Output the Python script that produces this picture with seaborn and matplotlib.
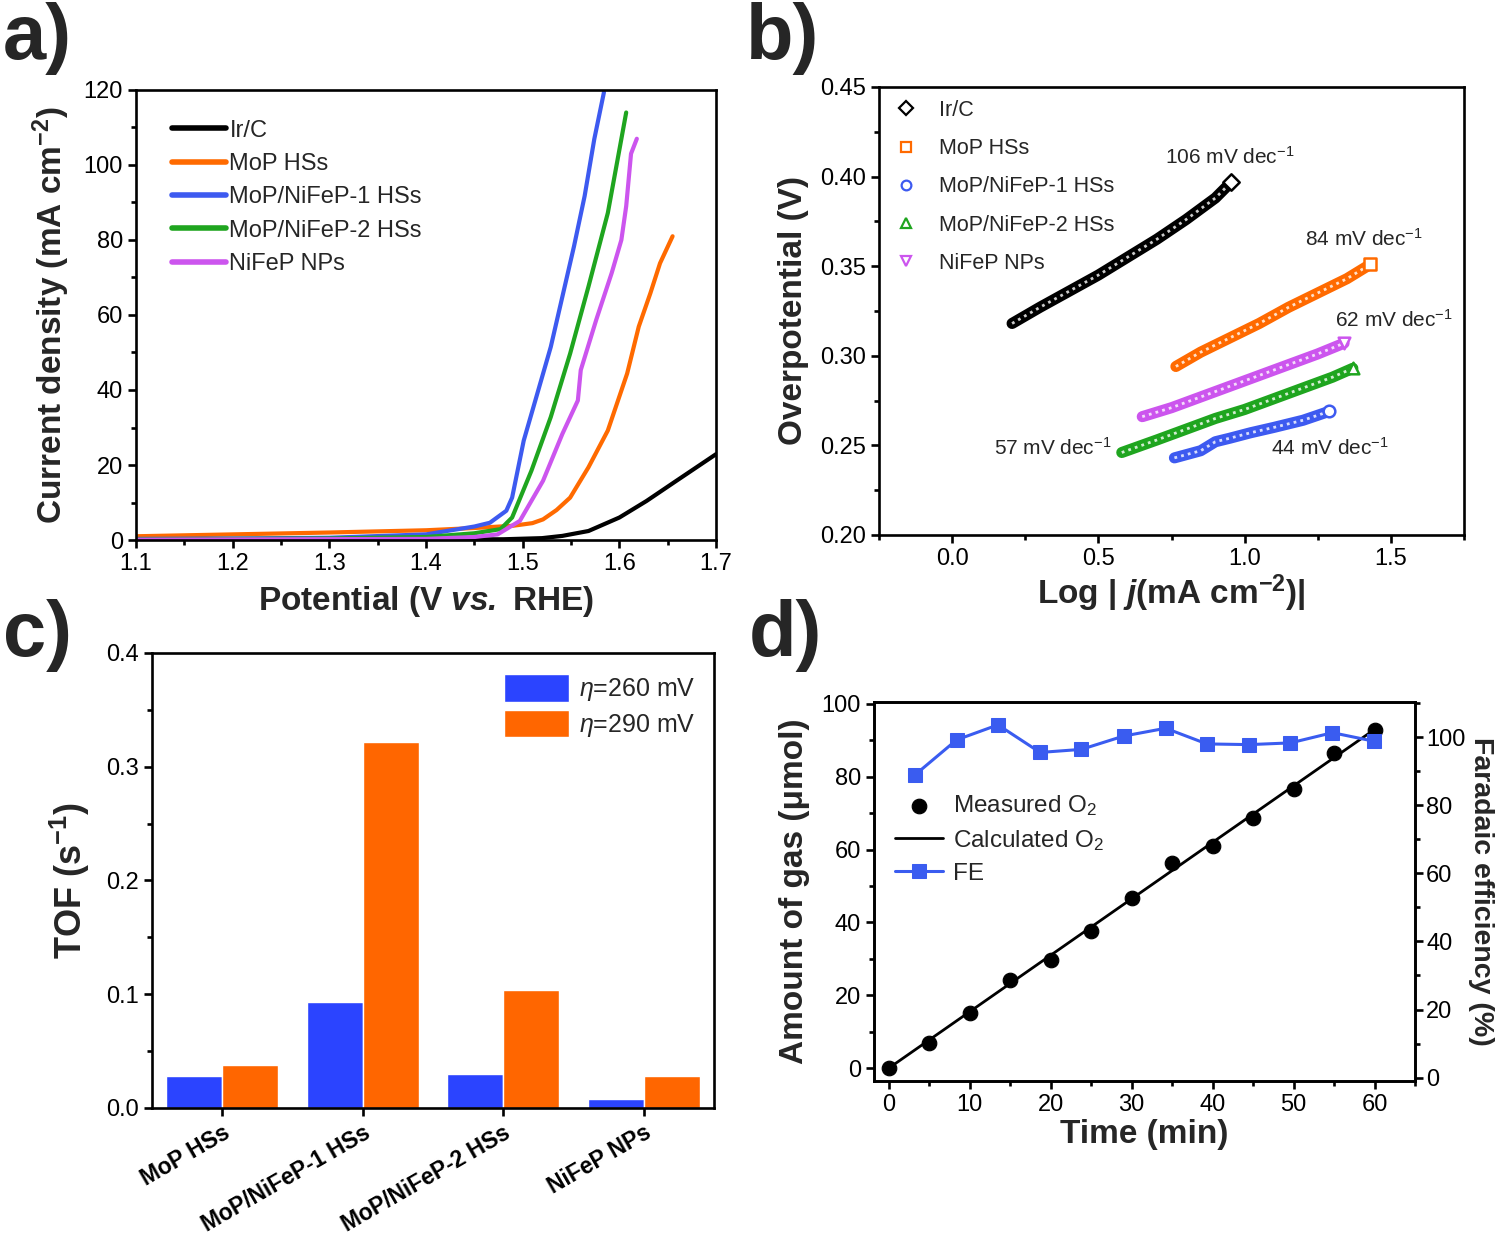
import numpy as np
import pandas as pd
import matplotlib
matplotlib.use("Agg")
import matplotlib.pyplot as plt
import seaborn as sns
from matplotlib.lines import Line2D
from matplotlib.ticker import MultipleLocator
from matplotlib.transforms import ScaledTranslation

# ---- panel a: LSV curves (potential V vs RHE, current density mA cm-2)
irc_x = [1.10, 1.20, 1.30, 1.40, 1.48, 1.52, 1.541, 1.568, 1.600, 1.628, 1.659, 1.70]
irc_y = [0.1, 0.1, 0.1, 0.1, 0.2, 0.5, 1.1, 2.4, 6.0, 10.4, 15.8, 22.9]
mop_x = [1.10, 1.20, 1.30, 1.40, 1.45, 1.49, 1.51, 1.521, 1.535, 1.549, 1.568, 1.588, 1.608, 1.620, 1.632, 1.642, 1.655]
mop_y = [1.0, 1.5, 2.0, 2.6, 3.2, 3.8, 4.5, 5.5, 8.0, 11.3, 19.4, 29.2, 44.4, 56.9, 65.8, 73.8, 81.0]
hs1_x = [1.10, 1.20, 1.30, 1.40, 1.45, 1.466, 1.483, 1.489, 1.501, 1.513, 1.529, 1.541, 1.553, 1.564, 1.574, 1.584]
hs1_y = [0.3, 0.4, 0.6, 1.5, 3.6, 4.6, 7.8, 11.3, 26.5, 37.2, 51.5, 64.9, 78.3, 91.7, 106.9, 119.4]
hs2_x = [1.10, 1.30, 1.40, 1.45, 1.477, 1.489, 1.509, 1.529, 1.549, 1.568, 1.588, 1.607]
hs2_y = [0.2, 0.4, 0.8, 1.8, 2.9, 6.0, 18.5, 32.8, 49.7, 67.6, 87.2, 114.0]
nifep_x = [1.10, 1.40, 1.45, 1.474, 1.497, 1.521, 1.541, 1.557, 1.560, 1.576, 1.592, 1.602, 1.607, 1.612, 1.618]
nifep_y = [0.1, 0.3, 0.8, 1.5, 5.1, 15.8, 28.3, 37.2, 45.3, 58.7, 71.2, 80.0, 89.0, 103.0, 107.0]

names = ["Ir/C", "MoP HSs", "MoP/NiFeP-1 HSs", "MoP/NiFeP-2 HSs", "NiFeP NPs"]
colors = ["#000000", "#FF6A00", "#3D5AF0", "#1FA51F", "#CC55EE"]

# ---- panel b: Tafel plots (log j, overpotential V)
tafel_irc_x = [0.205, 0.30, 0.40, 0.50, 0.60, 0.70, 0.80, 0.90, 0.955]
tafel_irc_y = [0.318, 0.327, 0.336, 0.345, 0.355, 0.365, 0.376, 0.388, 0.397]
tafel_mop_x = [0.765, 0.85, 0.95, 1.05, 1.15, 1.25, 1.35, 1.43]
tafel_mop_y = [0.294, 0.302, 0.310, 0.318, 0.327, 0.335, 0.343, 0.351]
tafel_hs1_x = [0.76, 0.85, 0.90, 0.95, 1.02, 1.10, 1.20, 1.29]
tafel_hs1_y = [0.243, 0.247, 0.252, 0.254, 0.257, 0.260, 0.264, 0.269]
tafel_hs2_x = [0.58, 0.70, 0.80, 0.90, 1.00, 1.10, 1.20, 1.30, 1.37]
tafel_hs2_y = [0.246, 0.253, 0.259, 0.265, 0.270, 0.276, 0.282, 0.288, 0.293]
tafel_nifep_x = [0.65, 0.75, 0.85, 0.95, 1.05, 1.15, 1.25, 1.34]
tafel_nifep_y = [0.266, 0.271, 0.277, 0.283, 0.289, 0.295, 0.301, 0.307]
tafel_markers = ["D", "s", "o", "^", "v"]
slope_text = ["106 mV dec$^{-1}$", "84 mV dec$^{-1}$", "44 mV dec$^{-1}$", "57 mV dec$^{-1}$", "62 mV dec$^{-1}$"]
slope_x = [0.948, 1.407, 1.293, 0.345, 1.510]
slope_y = [0.411, 0.365, 0.2486, 0.2486, 0.320]

# ---- panel c: TOF
tof_samples = ["MoP HSs", "MoP/NiFeP-1 HSs", "MoP/NiFeP-2 HSs", "NiFeP NPs"]
tof_260 = [0.028, 0.093, 0.030, 0.008]
tof_290 = [0.038, 0.322, 0.104, 0.028]

# ---- panel d: gas evolution
time_meas = [0, 5, 10, 15, 20, 25, 30, 35, 40, 45, 50, 55, 60]
o2_meas = [0, 6.8, 15.3, 24.2, 29.7, 37.6, 46.8, 56.2, 60.9, 68.7, 76.6, 86.6, 92.7]
time_calc = [0, 60]
o2_calc = [0, 93]
time_fe = [3.3, 8.4, 13.5, 18.7, 23.8, 29.0, 34.2, 39.3, 44.5, 49.6, 54.8, 59.9]
fe = [89.0, 99.2, 103.6, 95.5, 96.4, 100.3, 102.6, 98.0, 97.8, 98.3, 101.3, 98.8]

sns.set_theme(style="ticks")
plt.rcParams["font.family"] = ["Liberation Sans", "DejaVu Sans"]
plt.rcParams["mathtext.fontset"] = "custom"
plt.rcParams["mathtext.rm"] = "Liberation Sans"
plt.rcParams["mathtext.it"] = "Liberation Sans:italic"
plt.rcParams["mathtext.bf"] = "Liberation Sans:bold"
plt.rcParams["mathtext.bfit"] = "Liberation Sans:bold:italic"
plt.rcParams["axes.linewidth"] = 1.9
plt.rcParams["xtick.major.width"] = 1.9
plt.rcParams["ytick.major.width"] = 1.9
plt.rcParams["xtick.minor.width"] = 1.9
plt.rcParams["ytick.minor.width"] = 1.9
plt.rcParams["xtick.major.size"] = 6
plt.rcParams["ytick.major.size"] = 6
plt.rcParams["xtick.minor.size"] = 3.5
plt.rcParams["ytick.minor.size"] = 3.5
plt.rcParams["xtick.color"] = "black"
plt.rcParams["ytick.color"] = "black"
plt.rcParams["axes.edgecolor"] = "black"

fig = plt.figure(figsize=(15, 12.36), dpi=100)
ax_a = fig.add_axes([0.0907, 0.5631, 0.3867, 0.3641])
ax_b = fig.add_axes([0.586, 0.5672, 0.390, 0.3625])
ax_c = fig.add_axes([0.1013, 0.1036, 0.3747, 0.3681])
ax_d = fig.add_axes([0.5827, 0.1254, 0.3607, 0.3066])

label_font = dict(fontsize=24, fontweight="bold")

# a) LSV
lsv = pd.concat([
    pd.DataFrame({"E": irc_x, "j": irc_y, "sample": names[0]}),
    pd.DataFrame({"E": mop_x, "j": mop_y, "sample": names[1]}),
    pd.DataFrame({"E": hs1_x, "j": hs1_y, "sample": names[2]}),
    pd.DataFrame({"E": hs2_x, "j": hs2_y, "sample": names[3]}),
    pd.DataFrame({"E": nifep_x, "j": nifep_y, "sample": names[4]}),
])
sns.lineplot(data=lsv, x="E", y="j", hue="sample", palette=colors, hue_order=names,
             sort=False, estimator=None, linewidth=3, ax=ax_a)
ax_a.set_xlim(1.1, 1.7)
ax_a.set_ylim(0, 120)
ax_a.xaxis.set_major_locator(MultipleLocator(0.1))
ax_a.xaxis.set_minor_locator(MultipleLocator(0.05))
ax_a.yaxis.set_major_locator(MultipleLocator(20))
ax_a.yaxis.set_minor_locator(MultipleLocator(10))
ax_a.tick_params(labelsize=17)
ax_a.set_xlabel(r"Potential (V $\mathbfit{vs.}$ RHE)", labelpad=6, **label_font)
ax_a.set_ylabel(r"Current density (mA cm$^{\mathbf{-2}}$)", labelpad=8, **label_font)
leg = ax_a.legend(loc="upper left", bbox_to_anchor=(0.045, 0.955), frameon=False, fontsize=17,
                  handlelength=2.3, labelspacing=0.48, handletextpad=0.15, borderaxespad=0)
for h in leg.get_lines():
    h.set_linewidth(4)

# b) Tafel
tafel = [(tafel_irc_x, tafel_irc_y), (tafel_mop_x, tafel_mop_y), (tafel_hs1_x, tafel_hs1_y),
         (tafel_hs2_x, tafel_hs2_y), (tafel_nifep_x, tafel_nifep_y)]
handles = []
for (tx, ty), c, m, n in zip(tafel, colors, tafel_markers, names):
    df = pd.DataFrame({"logj": tx, "eta": ty})
    sns.lineplot(data=df, x="logj", y="eta", color=c, linewidth=8, sort=False, estimator=None, ax=ax_b)
    sns.lineplot(data=df, x="logj", y="eta", color="white", linewidth=2, sort=False,
                 estimator=None, ax=ax_b, dashes=False, alpha=0.8, linestyle=(0, (1, 1.5)))
    sns.scatterplot(x=tx[-1:], y=ty[-1:], marker=m, s=70, facecolor="white", edgecolor=c,
                    linewidth=1.8, ax=ax_b, zorder=5)
    handles.append(Line2D([], [], linestyle="none", marker=m, markersize=7, markerfacecolor="none",
                          markeredgecolor=c, markeredgewidth=1.6, label=n))
for t, x, y in zip(slope_text, slope_x, slope_y):
    ax_b.text(x, y, t, fontsize=15, ha="center", va="center")
ax_b.set_xlim(-0.25, 1.75)
ax_b.set_ylim(0.20, 0.45)
ax_b.xaxis.set_major_locator(MultipleLocator(0.5))
ax_b.xaxis.set_minor_locator(MultipleLocator(0.25))
ax_b.yaxis.set_major_locator(MultipleLocator(0.05))
ax_b.yaxis.set_minor_locator(MultipleLocator(0.025))
ax_b.xaxis.set_major_formatter(plt.FormatStrFormatter("%.1f"))
ax_b.yaxis.set_major_formatter(plt.FormatStrFormatter("%.2f"))
ax_b.tick_params(labelsize=17)
ax_b.set_xlabel(r"Log | $\mathbfit{j}$(mA cm$^{\mathbf{-2}}$)|", labelpad=2, **label_font)
ax_b.set_ylabel("Overpotential (V)", labelpad=8, **label_font)
ax_b.legend(handles=handles, loc="upper left", bbox_to_anchor=(-0.005, 0.99), frameon=False,
            fontsize=15.5, labelspacing=0.8, handletextpad=0.5, borderaxespad=0)

# c) TOF
tof = pd.DataFrame({
    "sample": tof_samples * 2,
    "tof": tof_260 + tof_290,
    "eta": [r"$\mathit{\eta}$=260 mV"] * 4 + [r"$\mathit{\eta}$=290 mV"] * 4,
})
sns.barplot(data=tof, x="sample", y="tof", hue="eta", palette=["#2B44FF", "#FF6600"],
            saturation=1, width=0.8, ax=ax_c)
ax_c.set_xlim(-0.5, 3.5)
ax_c.set_ylim(0, 0.4)
ax_c.yaxis.set_major_locator(MultipleLocator(0.1))
ax_c.yaxis.set_minor_locator(MultipleLocator(0.05))
ax_c.tick_params(axis="y", labelsize=17)
ax_c.tick_params(axis="x", labelsize=16.5)
ax_c.set_xlabel("")
ax_c.set_ylabel(r"TOF (s$^{\mathbf{-1}}$)", labelpad=10, fontsize=26, fontweight="bold")
for lab in ax_c.get_xticklabels():
    lab.set_rotation(30)
    lab.set_ha("right")
    lab.set_rotation_mode("anchor")
    lab.set_fontweight("bold")
    lab.set_transform(lab.get_transform() + ScaledTranslation(0.6, 0.13, fig.dpi_scale_trans))
ax_c.legend(loc="upper right", bbox_to_anchor=(0.985, 0.975), frameon=False, fontsize=18,
            handlelength=2.6, handleheight=1.3, labelspacing=0.25, handletextpad=0.4, borderaxespad=0)

# d) gas evolution
ax_d2 = ax_d.twinx()
sns.lineplot(x=time_calc, y=o2_calc, color="black", linewidth=2, ax=ax_d, label="Calculated O$_2$")
sns.scatterplot(x=time_meas, y=o2_meas, color="black", s=110, edgecolor="black", ax=ax_d,
                zorder=5, label="Measured O$_2$")
sns.lineplot(x=time_fe, y=fe, color="#3A5CF0", linewidth=2.2, marker="s", markersize=10,
             markeredgecolor="#3A5CF0", ax=ax_d2, label="FE")
ax_d.set_xlim(-1.8, 65)
ax_d.set_ylim(-3.5, 100.5)
ax_d2.set_ylim(-1, 110.3)
ax_d.xaxis.set_major_locator(MultipleLocator(10))
ax_d.xaxis.set_minor_locator(MultipleLocator(5))
ax_d.yaxis.set_major_locator(MultipleLocator(20))
ax_d.yaxis.set_minor_locator(MultipleLocator(10))
ax_d2.yaxis.set_major_locator(MultipleLocator(20))
ax_d2.yaxis.set_minor_locator(MultipleLocator(10))
ax_d.tick_params(labelsize=17)
ax_d2.tick_params(labelsize=17, pad=2)
ax_d.set_xlabel("Time (min)", labelpad=2, **label_font)
ax_d.set_ylabel("Amount of gas (μmol)", labelpad=8, **label_font)
ax_d2.set_ylabel("Faradaic efficiency (%)", rotation=270, va="bottom", labelpad=2,
                 fontsize=20.5, fontweight="bold")
h1, l1 = ax_d.get_legend_handles_labels()
h2, l2 = ax_d2.get_legend_handles_labels()
if ax_d2.get_legend():
    ax_d2.get_legend().remove()
ax_d.legend([h1[1], h1[0], h2[0]], [l1[1], l1[0], l2[0]], loc="upper left",
            bbox_to_anchor=(0.02, 0.785), frameon=False, fontsize=17.5, labelspacing=0.4,
            handlelength=2.0, handletextpad=0.4, borderaxespad=0)

for ax in [ax_a, ax_b, ax_c, ax_d]:
    for s in ax.spines.values():
        s.set_visible(True)
        s.set_linewidth(1.9)
    ax.tick_params(which="both", direction="out", top=False, right=False)
ax_d2.tick_params(which="both", direction="out")

panel_font = dict(fontsize=56, fontweight="bold", va="top", ha="left")
fig.text(0.002, 0.998, "a)", **panel_font)
fig.text(0.497, 0.998, "b)", **panel_font)
fig.text(0.002, 0.515, "c)", **panel_font)
fig.text(0.499, 0.515, "d)", **panel_font)

fig.savefig("out.png", dpi=100)
